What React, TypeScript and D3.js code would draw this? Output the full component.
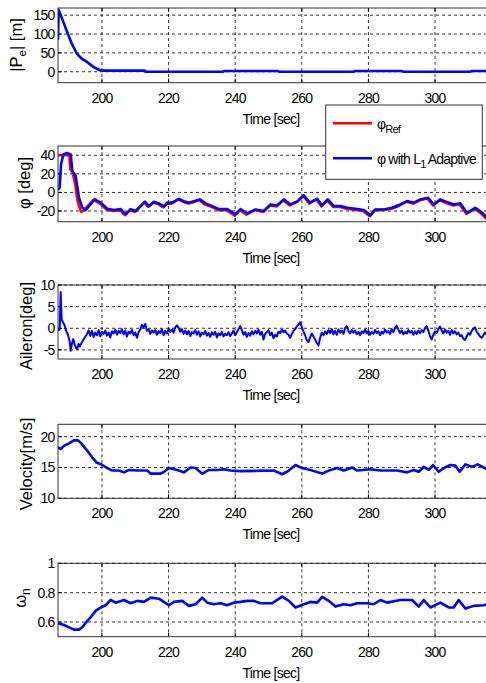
import React from "react";
import * as d3 from "d3";

// ---------- data ----------
const xTicks = [200, 220, 240, 260, 280, 300];

const posTime = [186.8, 187.0, 190.9, 192.4, 193.9, 195.5, 197.4, 199.4, 200.5, 212.9, 213.1, 236.4, 236.6, 252.9, 253.1, 275.7, 275.9, 290.2, 290.4, 310.7, 310.9, 315.6];
const posErr = [85, 164, 75, 49, 35, 26, 13, 4, 3, 3, 0, 0, 2, 2, 0, 0, 2, 2, 0, 0, 2, 2];

const phiTime = [186.8, 187.3, 187.7, 188.4, 189.5, 190.6, 191.1, 192.1, 193.1, 194.1, 195.1, 196.1, 197.8, 199.6, 201.6, 203.6, 205.6, 207.1, 208.6, 210.1, 211.6, 212.9, 214.1, 215.6, 217.1, 218.6, 219.6, 221.1, 223.1, 224.6, 226.1, 227.6, 229.4, 231.1, 233.1, 235.1, 237.6, 240.1, 241.6, 243.6, 246.1, 248.6, 250.6, 252.6, 254.6, 256.6, 258.8, 260.6, 262.4, 264.6, 266.1, 267.8, 269.6, 271.6, 273.6, 276.1, 278.6, 280.6, 282.1, 284.6, 287.1, 289.6, 291.6, 293.6, 295.6, 297.9, 299.6, 301.6, 303.6, 305.6, 307.6, 309.6, 312.1, 314.1, 315.6];
const phiL1 = [3, 5, 30, 41, 42.5, 41, 23, 17.6, -5.7, -16.5, -19, -14.7, -7.5, -11, -17.6, -19, -18, -23.6, -18, -20, -14.7, -10, -14.7, -10, -11.8, -15, -11, -11, -6.9, -9.4, -11, -9.4, -7.5, -11.8, -14.7, -18, -18, -23.6, -18, -22.5, -18.3, -20, -12.9, -14, -7.5, -12.9, -9.3, -3.2, -11, -6.8, -14, -7.5, -14.7, -14.7, -16.5, -17.6, -19, -24.7, -18.3, -18.3, -16.5, -12.9, -9.3, -11, -7.5, -5.7, -12.9, -7.5, -10.4, -12.9, -11.8, -21.9, -16.5, -21.9, -27];

const refTime = [186.8, 190.2, 190.5, 191.3, 192.0, 192.6, 193.3, 193.8, 194.6, 195.6, 197.5, 199.4, 201.4, 203.4, 205.4, 206.9, 208.4, 209.9, 211.4, 212.7, 213.9, 215.4, 216.9, 218.4, 219.4, 220.9, 222.9, 224.4, 225.9, 227.4, 229.2, 230.9, 232.9, 234.9, 237.4, 239.9, 241.4, 243.4, 245.9, 248.4, 250.4, 252.4, 254.4, 256.4, 258.6, 260.4, 262.2, 264.4, 265.9, 267.6, 269.4, 271.4, 273.4, 275.9, 278.4, 280.4, 281.9, 284.4, 286.9, 289.4, 291.4, 293.4, 295.4, 297.7, 299.4, 301.4, 303.4, 305.4, 307.4, 309.4, 311.9, 313.9, 315.6];
const phiRef = [40, 40, 25, 20, 8, -8, -17, -21, -19, -15, -8, -12, -18.5, -20, -19, -24.5, -19, -21, -15.5, -11, -15.5, -11, -12.5, -16, -12, -12, -7.5, -10, -12, -10.5, -8, -13, -15.5, -19, -19, -25, -19, -24, -19, -21, -14, -15, -8.5, -14, -10, -3.5, -12, -7.5, -15, -8.5, -15.5, -15.5, -17.5, -18.5, -20, -25.5, -19, -19, -17.5, -14, -10, -12, -8.5, -6.5, -14, -8.5, -11.5, -14, -13, -23, -17.5, -23, -29];

const aileronEarlyTime = [186.8, 187.3, 187.6, 187.9, 188.3, 188.7, 189.2, 189.8, 190.3, 190.6, 191.0, 191.4, 191.8, 192.2, 192.6, 193.0, 193.4, 193.8, 194.3, 194.8, 195.3, 195.7];
const aileronEarly = [-0.5, -0.3, 8.4, 2, 1.4, 0.8, -0.5, -1.5, -3, -5.2, -3.5, -2.5, -3.8, -4.5, -4.8, -3.6, -4.2, -3.5, -2.8, -2.2, -1.6, -1.0];
const aileronStart = 196;
const aileronStep = 0.5;
const aileron = [
  -0.5, -1.8, -0.6, -2.0, -1.0, -1.6, -0.4, -1.9, -0.8, -1.3, -0.5, -1.7, -1.0, -2.1, -0.7, -1.2, -0.3, -1.5, -0.6, -1.1,
  -0.2, -1.4, -0.5, -1.9, -0.8, -1.2, -0.4, -1.6, -1.0, -2.2, -0.9, -0.3, 0.8, 0.2, 1.0, -0.6, -0.2, -1.3, -0.5, -1.0,
  -0.4, -1.5, -0.7, -1.1, -0.2, -1.6, -0.6, -1.2, -0.1, -0.9, -0.3, -1.0, 0.2, 0.7, 0.1, -0.8, -0.2, -1.3, -0.5, -1.4,
  -0.6, -1.8, -0.9, -1.2, -0.4, -1.5, -0.7, -1.9, -1.0, -1.4, -0.6, -1.7, -1.1, -2.0, -0.9, -1.5, -0.8, -2.1, -1.2, -1.6,
  -0.8, -1.9, -1.3, -1.6, -0.9, -1.8, -1.2, -0.5, -1.6, -0.9, -0.2, 0.5, -0.4, -1.5, -0.9, -2.0, -1.1, -1.7, -0.7, -1.4,
  -0.6, -1.2, -0.3, -1.5, -0.8, -2.6, -1.3, -0.9, -0.4, -1.6, -1.0, -2.3, -1.5, -1.9, -0.8, -1.1, -0.3, -0.9, -0.5, -1.2,
  -1.5, -2.2, -1.3, -0.6, -0.2, 0.4, 0.9, 1.4, 0.3, -0.8, -1.6, -2.8, -3.2, -2.1, -1.2, -1.9, -2.6, -3.4, -4.0, -2.2,
  -1.0, -1.6, -0.7, -1.3, -0.4, -1.1, -0.2, -1.4, -0.6, -1.5, -0.3, -1.0, -0.5, -1.3, 0.1, 0.5, -0.6, -1.2, -0.4, -1.0,
  -0.5, -1.4, -0.8, -1.6, -0.7, -1.1, -0.3, -1.2, -0.6, -1.5, -0.9, -1.3, -0.4, -1.1, -0.7, -1.6, -0.8, -1.2, -0.3, -1.0,
  -0.6, -1.3, -0.2, -0.9, 0.1, 0.6, -0.3, -1.1, -0.5, -1.4, -0.8, -1.2, -0.4, -1.0, -0.6, -1.5, -0.7, -1.3, -0.5, -1.1,
  -0.4, -0.9, 0.1, 0.5, -0.6, -1.8, -2.6, -1.5, -0.7, -1.1, -0.2, 0.4, -0.5, -1.2, -0.3, -1.0, -0.6, -1.5, -0.4, -1.2,
  -0.7, -1.4, -1.0, -1.8, -1.6, -2.4, -2.7, -1.9, -1.1, -1.5, -0.6, -0.1, 0.2, -0.8, -1.3, -1.9, -2.2, -1.6, -1.0, -1.4,
];

const velTime = [186.8, 187.6, 188.6, 190.1, 191.6, 192.8, 193.8, 195.6, 197.1, 198.4, 200.1, 201.6, 203.1, 205.1, 206.6, 208.1, 210.6, 213.6, 214.6, 217.6, 218.6, 220.1, 222.6, 224.6, 226.6, 228.1, 230.1, 232.1, 234.6, 236.6, 238.6, 241.6, 251.6, 254.1, 256.1, 258.1, 260.1, 262.6, 266.1, 268.6, 270.6, 272.6, 275.1, 276.6, 280.6, 283.6, 288.6, 291.6, 293.6, 295.1, 296.6, 298.1, 299.4, 301.1, 302.6, 304.6, 306.1, 307.4, 309.1, 311.1, 312.8, 315.6];
const velocity = [18.25, 18.0, 18.5, 18.9, 19.4, 19.4, 18.9, 17.7, 16.6, 15.8, 15.4, 14.9, 14.5, 14.5, 14.2, 14.6, 14.5, 14.5, 14.0, 14.0, 14.3, 14.9, 14.6, 14.2, 15.0, 14.9, 14.0, 14.6, 14.6, 14.7, 14.5, 14.4, 14.5, 13.9, 14.5, 15.4, 14.9, 14.6, 14.0, 14.6, 14.9, 14.5, 15.0, 14.5, 14.7, 14.5, 14.5, 14.2, 14.6, 14.3, 15.1, 14.6, 15.4, 14.3, 14.9, 15.4, 15.3, 14.3, 15.5, 15.1, 15.5, 14.7];

const omegaTime = [186.8, 188.6, 190.1, 191.6, 193.1, 194.1, 195.4, 196.6, 198.1, 199.6, 201.1, 202.6, 204.1, 206.6, 208.6, 210.6, 212.6, 214.6, 217.1, 220.1, 221.6, 224.1, 226.1, 228.1, 230.1, 231.6, 233.6, 235.6, 237.6, 239.6, 241.6, 243.6, 245.6, 247.6, 251.1, 254.1, 256.1, 258.1, 260.6, 262.6, 264.6, 266.1, 268.1, 270.1, 272.6, 274.6, 276.6, 279.6, 281.6, 283.6, 285.6, 289.6, 293.1, 295.1, 296.6, 298.6, 301.6, 304.1, 305.6, 307.1, 309.1, 311.6, 314.6, 315.6];
const omegaN = [0.593, 0.58, 0.564, 0.548, 0.548, 0.564, 0.602, 0.632, 0.676, 0.699, 0.714, 0.75, 0.732, 0.75, 0.728, 0.744, 0.737, 0.766, 0.759, 0.714, 0.737, 0.744, 0.71, 0.721, 0.766, 0.732, 0.721, 0.728, 0.714, 0.732, 0.737, 0.744, 0.744, 0.728, 0.728, 0.773, 0.744, 0.699, 0.721, 0.737, 0.732, 0.771, 0.744, 0.705, 0.721, 0.714, 0.728, 0.728, 0.721, 0.75, 0.732, 0.75, 0.75, 0.705, 0.75, 0.699, 0.732, 0.699, 0.699, 0.75, 0.692, 0.71, 0.714, 0.72];

// ---------- layout ----------
const W = 486;
const H = 683;
const LEFT = 58;
const RIGHT = 487;
const FONT = "'Liberation Sans', Arial, Helvetica, sans-serif";

type Series = { t: number[]; v: number[]; color: string; width: number };
type Panel = {
  top: number;
  bottom: number;
  domain: [number, number];
  yTicks: number[];
  series: Series[];
  label: React.ReactNode;
  labelX: number;
  labelY: number;
};

const aileronTime = aileronEarlyTime.concat(aileron.map((_, i) => aileronStart + i * aileronStep));
const aileronAll = aileronEarly.concat(aileron);

const BLUE = "#0000ff";
const RED = "#ff0000";

const panels: Panel[] = [
  {
    top: 8, bottom: 82.7, domain: [-29, 169], yTicks: [0, 50, 100, 150],
    series: [{ t: posTime, v: posErr, color: BLUE, width: 2.6 }],
    label: (<>|P<tspan fontSize={11.5} dy={4}>e</tspan><tspan dy={-4}>| [m]</tspan></>),
    labelX: 22, labelY: 45,
  },
  {
    top: 146, bottom: 221.7, domain: [-31.5, 50], yTicks: [-20, 0, 20, 40],
    series: [
      { t: refTime, v: phiRef, color: RED, width: 2.6 },
      { t: phiTime, v: phiL1, color: BLUE, width: 2.6 },
    ],
    label: "φ [deg]", labelX: 30, labelY: 183,
  },
  {
    top: 285, bottom: 359, domain: [-7.1, 10], yTicks: [-5, 0, 5, 10],
    series: [{ t: aileronTime, v: aileronAll, color: BLUE, width: 2 }],
    label: "Aileron[deg]", labelX: 32, labelY: 326,
  },
  {
    top: 424.3, bottom: 498.3, domain: [10, 22], yTicks: [10, 15, 20],
    series: [{ t: velTime, v: velocity, color: BLUE, width: 2.6 }],
    label: "Velocity[m/s]", labelX: 32, labelY: 464,
  },
  {
    top: 563.3, bottom: 636.7, domain: [0.5, 1], yTicks: [0.6, 0.8, 1],
    series: [{ t: omegaTime, v: omegaN, color: BLUE, width: 2.6 }],
    label: (<>ω<tspan fontSize={12} dy={4}>n</tspan></>),
    labelX: 26, labelY: 598,
  },
];

const x = d3.scaleLinear().domain([186.8, 315.6]).range([LEFT, RIGHT]);

function PanelView({ p, idx }: { p: Panel; idx: number }) {
  const y = d3.scaleLinear().domain(p.domain).range([p.bottom, p.top]);
  const clipId = `clip-${idx}`;
  const line = d3.line<[number, number]>().x((d) => x(d[0])).y((d) => y(d[1]));
  return (
    <g>
      <defs>
        <clipPath id={clipId}>
          <rect x={LEFT} y={p.top} width={RIGHT - LEFT} height={p.bottom - p.top} />
        </clipPath>
      </defs>
      <rect x={LEFT} y={p.top} width={RIGHT - LEFT} height={p.bottom - p.top} fill="#fff" />
      {xTicks.map((t) => (
        <line key={"gx" + t} x1={x(t)} x2={x(t)} y1={p.top} y2={p.bottom} stroke="#000" strokeWidth={0.8} strokeDasharray="3,3" />
      ))}
      {p.yTicks.map((t) => (
        <line key={"gy" + t} x1={LEFT} x2={RIGHT} y1={y(t)} y2={y(t)} stroke="#000" strokeWidth={0.8} strokeDasharray="3,3" />
      ))}
      {xTicks.map((t) => (
        <g key={"tx" + t}>
          <line x1={x(t)} x2={x(t)} y1={p.bottom} y2={p.bottom - 4} stroke="#000" strokeWidth={1} />
          <line x1={x(t)} x2={x(t)} y1={p.top} y2={p.top + 4} stroke="#000" strokeWidth={1} />
        </g>
      ))}
      {p.yTicks.map((t) => (
        <line key={"ty" + t} x1={LEFT} x2={LEFT + 4} y1={y(t)} y2={y(t)} stroke="#000" strokeWidth={1} />
      ))}
      <g clipPath={`url(#${clipId})`}>
        {p.series.map((s, i) => (
          <path
            key={i}
            d={line(s.t.map((t, j) => [t, s.v[j]] as [number, number])) || ""}
            fill="none"
            stroke={s.color}
            strokeWidth={s.width}
            strokeLinejoin="round"
          />
        ))}
      </g>
      <rect x={LEFT} y={p.top} width={RIGHT - LEFT} height={p.bottom - p.top} fill="none" stroke="#333" strokeWidth={1} />
      {xTicks.map((t) => (
        <text key={"lx" + t} x={x(t)} y={p.bottom + 20} textAnchor="middle" fontSize={14} letterSpacing={-0.8} fontFamily={FONT} fill="#000">
          {t}
        </text>
      ))}
      {p.yTicks.map((t) => (
        <text key={"ly" + t} x={54.5} y={y(t) + 5} textAnchor="end" fontSize={14} letterSpacing={-0.8} fontFamily={FONT} fill="#000">
          {String(t)}
        </text>
      ))}
      <text x={271} y={p.bottom + 41} textAnchor="middle" fontSize={14} letterSpacing={-0.7} fontFamily={FONT} fill="#000">
        Time [sec]
      </text>
      <text
        transform={`translate(${p.labelX},${p.labelY}) rotate(-90)`}
        textAnchor="middle"
        fontSize={16.5}
        fontFamily={FONT}
        fill="#000"
      >
        {p.label}
      </text>
    </g>
  );
}

export default function App() {
  return (
    <svg width={W} height={H} style={{ position: "absolute", left: 0, top: 0, background: "#fff" }}>
      <rect x={0} y={0} width={W} height={H} fill="#fff" />
      {panels.map((p, i) => (
        <PanelView key={i} p={p} idx={i} />
      ))}
      <g>
        <rect x={325.7} y={105} width={156.6} height={74.3} fill="#fff" stroke="#333" strokeWidth={1} />
        <line x1={333} x2={372} y1={123.3} y2={123.3} stroke={RED} strokeWidth={2.6} />
        <text x={377} y={129} fontSize={14} fontFamily={FONT} fill="#000" letterSpacing={-0.8}>
          φ<tspan fontSize={11} dy={4}>Ref</tspan>
        </text>
        <line x1={333} x2={372} y1={158.3} y2={158.3} stroke={BLUE} strokeWidth={2.6} />
        <text x={377} y={164} fontSize={14} fontFamily={FONT} fill="#000" letterSpacing={-0.8}>
          φ with L<tspan fontSize={11} dy={4}>1</tspan><tspan dy={-4}> Adaptive</tspan>
        </text>
      </g>
    </svg>
  );
}
